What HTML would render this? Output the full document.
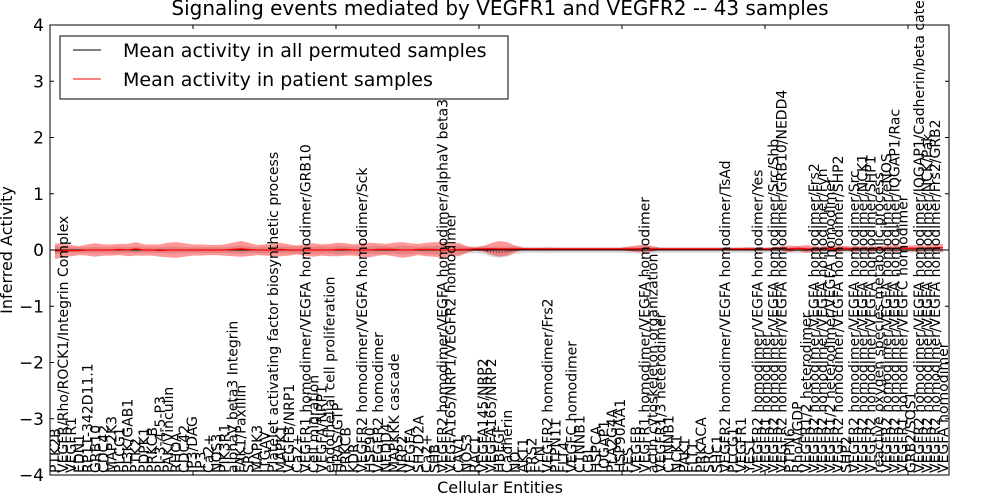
<!DOCTYPE html>
<html><head><meta charset="utf-8"><style>
html,body{margin:0;padding:0;background:#fff;}
svg{display:block;font-family:"DejaVu Sans","Liberation Sans",sans-serif;}
</style></head><body>
<svg id="chart" width="1000" height="500" viewBox="0 0 1000 500" xmlns="http://www.w3.org/2000/svg">
<rect x="0" y="0" width="1000" height="500" fill="#fff"/>
<text x="500" y="15" font-size="20" text-anchor="middle">Signaling events mediated by VEGFR1 and VEGFR2 -- 43 samples</text>
<g id="plot"></g>
<g id="xlabels"></g>
<g id="yaxis"></g>
<rect x="50" y="25" width="899" height="450" fill="none" stroke="#000" stroke-width="1"/>
<text x="500" y="493" font-size="16" text-anchor="middle">Cellular Entities</text>
<text transform="translate(12,250) rotate(-90)" font-size="16" text-anchor="middle">Inferred Activity</text>
<g>
<rect x="60" y="36" width="448" height="63" fill="#fff" stroke="#000" stroke-width="1"/>
<line x1="73" y1="50" x2="101" y2="50" stroke="#000" stroke-width="1"/>
<text x="123" y="57" font-size="19">Mean activity in all permuted samples</text>
<line x1="73" y1="79" x2="101" y2="79" stroke="#f00" stroke-width="1"/>
<text x="123" y="86" font-size="19">Mean activity in patient samples</text>
</g>
</svg>
<script>
const categories = ["PTK2B","VEGFR/Rho/ROCK1/Integrin Complex","VEGFR1","EDN1","RP11-342D11.1","GRB10","CDC42","MAP2K3","PLCG1","PI3K/GAB1","PTK2","PDPK1","PRKCB","PI-3-4-5-P3","PAK/Vinculin","RHOA","CDC42","IP3/DAG","IP3","Ca2+","NOS3","PIK3R1","alphaV beta3 Integrin","FAK1/Paxillin","SRC","MAPK3","ITGAV","Platelet activating factor biosynthetic process","MAPK1","VEGFB/NRP1","Ca2+","VEGFR1 homodimer/VEGFA homodimer/GRB10","Cell migration","VEGFA/NRP1","endothelial cell proliferation","HRAS/GTP","PRKCB","KDR","VEGFR2 homodimer/VEGFA homodimer/Sck","HSP90","VEGFR2 homodimer","NEDD4","MAPKKK cascade","NRP2","VEGFA","SH2D2A","Ca2+","SHB","VEGFR2 homodimer/VEGFA homodimer/alphaV beta3","VEGFA165/NRP1/VEGFR2 homodimer","CAV1","NOS3","RAC1","VEGFA145/NRP2","VEGFA165/NRP2","HBEGF","Cadherin","NO","AKT1","FRS2","FYN","VEGFR2 homodimer/Frs2","PTPN11","FLT4","VEGFC homodimer","CTNNB1","CBL","HSPCA","IQGAP1","PLA2G4A","HSP90AA1","FES","VEGFB","VEGFR1 homodimer/VEGFA homodimer","actin cytoskeleton organization","VEGFR1/3 heterodimer","CTNNB1","NCK1","PAK1","FLT1","PRKACA","SRC","SHC1","VEGFR2 homodimer/VEGFA homodimer/TsAd","PLCG1","VEGFR1","YES1","VEGFR2 homodimer/VEGFA homodimer/Yes","VEGFR1 homodimer","VEGFR2 homodimer/VEGFA homodimer/Src/Shb","VEGFR2 homodimer/VEGFA homodimer/GRB10/NEDD4","PTPN6","RhoA/GDP","VEGFR1/2 heterodimer","VEGFR2 homodimer/VEGFA homodimer/Frs2","VEGFR2 homodimer/VEGFA homodimer/Fyn","VEGFR1/2 heterodimer/VEGFA homodimer","VEGFR2 homodimer/VEGFA homodimer/SHP2","SHP2","VEGFR2 homodimer/VEGFA homodimer/Src","VEGFR2 homodimer/VEGFA homodimer/NCK1","VEGFR2 homodimer/VEGFA homodimer/SHP1","reactive oxygen species metabolic process","VEGFR2 homodimer/VEGFA homodimer/eNOS","VEGFR2 homodimer/VEGFA homodimer/IQGAP1/Rac","VEGFR1 homodimer/VEGFC homodimer","GRB2/SOS1","VEGFR2 homodimer/VEGFA homodimer/IQGAP1/Cadherin/beta catenin","VEGFR2 homodimer/VEGFA homodimer/NCK/Pak","VEGFR2 homodimer/VEGFA homodimer/Frs2/GRB2","VEGFA homodimer"];
const permutedMean = [0,0,0,0,0,0,0,0,0,0,0.01,0,0,0,0,0,0,0,0,0,0,0,0,0.01,0,0,0,0,0,0,0,0,0,0,0,0,0,0,0,0,0,0,0,0,0,0,0,0,0,0,0,0,0,0,-0.03,-0.04,-0.03,0,0,0,0,0,0,0,0,0,0,0,0,0,0,0,0,0,0,0,0,0,0,0,0,0,0,0,0,0,0,0,0,0,0,0,0,0,0,0,0,0,0,0,0,0,0,0,0,0,0,0,0,0,0];
const permutedSpread = [0.07,0.06,0.05,0.05,0.05,0.05,0.05,0.06,0.06,0.05,0.06,0.05,0.05,0.05,0.06,0.06,0.05,0.05,0.05,0.05,0.05,0.05,0.06,0.07,0.06,0.05,0.06,0.06,0.06,0.06,0.06,0.07,0.06,0.07,0.06,0.07,0.07,0.06,0.07,0.06,0.07,0.07,0.06,0.08,0.07,0.06,0.07,0.07,0.08,0.07,0.08,0.06,0.06,0.07,0.09,0.1,0.09,0.07,0.06,0.05,0.05,0.06,0.05,0.05,0.05,0.05,0.05,0.05,0.05,0.05,0.05,0.06,0.06,0.07,0.06,0.05,0.05,0.05,0.05,0.05,0.05,0.05,0.05,0.05,0.05,0.05,0.05,0.05,0.05,0.05,0.06,0.05,0.06,0.05,0.05,0.05,0.05,0.05,0.05,0.05,0.05,0.05,0.05,0.05,0.05,0.05,0.05,0.05,0.05,0.05,0.05];
const patientMean = [-0.02,-0.01,-0.01,-0.01,0,0,0,0,0.01,0,0.02,0,0,-0.01,0,0,0,0,0,0,0,0,0.01,0.02,0.01,0,0,0,0.01,0,0,0,0,0,0,0.01,0.01,0,0,0,0.01,0.01,0.01,0,0,0.01,0.01,0.01,0,0,0.01,0.01,0.02,0.02,0.02,0.02,0.02,0.02,0.02,0.02,0.02,0.02,0.02,0.02,0.02,0.02,0.02,0.02,0.02,0.02,0.02,0.02,0.02,0.03,0.02,0.02,0.02,0.02,0.02,0.02,0.02,0.02,0.02,0.02,0.02,0.02,0.02,0.02,0.02,0.02,0.03,0.02,0.03,0.02,0.02,0.02,0.03,0.02,0.03,0.02,0.03,0.02,0.03,0.03,0.03,0.03,0.03,0.03,0.03,0.04,0.04];
const patientSpread = [0.14,0.12,0.1,0.08,0.1,0.12,0.1,0.1,0.1,0.11,0.12,0.1,0.1,0.11,0.13,0.14,0.12,0.1,0.1,0.09,0.09,0.1,0.12,0.14,0.12,0.09,0.1,0.11,0.12,0.1,0.08,0.1,0.12,0.1,0.11,0.12,0.11,0.1,0.12,0.13,0.11,0.1,0.12,0.14,0.12,0.1,0.12,0.13,0.14,0.11,0.12,0.06,0.03,0.05,0.1,0.14,0.12,0.06,0.02,0.02,0.02,0.02,0.02,0.02,0.02,0.02,0.02,0.02,0.02,0.02,0.02,0.04,0.06,0.07,0.05,0.02,0.02,0.02,0.02,0.02,0.02,0.02,0.02,0.02,0.02,0.02,0.03,0.02,0.02,0.03,0.04,0.06,0.04,0.07,0.05,0.04,0.05,0.06,0.04,0.05,0.04,0.05,0.04,0.05,0.06,0.05,0.05,0.06,0.05,0.06,0.07];
const yTicks = [4,3,2,1,0,-1,-2,-3,-4];
const yTickLabels = ["4","3","2","1","0","\u22121","\u22122","\u22123","\u22124"];

const NS = "http://www.w3.org/2000/svg";
const X0 = 55, X1 = 943, PL = 50, PR = 949, PT = 25, PB = 475;
function xScale(i){ return X0 + i*(X1-X0)/(categories.length-1); }
function yScale(v){ return 250 - v*(PB-PT)/8; }
function mk(tag, attrs, parent){ const e=document.createElementNS(NS,tag); for(const k in attrs) e.setAttribute(k,attrs[k]); parent.appendChild(e); return e; }

const plot = document.getElementById('plot');
function band(mean, spread, fill, op, name){
  let up=[],dn=[];
  for(let i=0;i<categories.length;i++){ up.push(xScale(i)+','+yScale(mean[i]+spread[i])); dn.unshift(xScale(i)+','+yScale(mean[i]-spread[i])); }
  const p = mk('polygon',{points:up.concat(dn).join(' '),fill:fill,'fill-opacity':op,stroke:'none'},plot);
  
  
}
function line(mean, stroke, dash, name, w){
  let pts=[]; for(let i=0;i<categories.length;i++) pts.push(xScale(i)+','+yScale(mean[i]));
  const p = mk('polyline',{points:pts.join(' '),fill:'none',stroke:stroke,'stroke-width':w},plot);
  if(dash) p.setAttribute('stroke-dasharray',dash);
  
  
}
band(permutedMean, permutedSpread, '#999', 0.35, 'permuted-band');
band(patientMean, patientSpread, '#f00', 0.4, 'patient-band');
const zl = mk('line',{x1:PL,x2:PR,y1:yScale(0),y2:yScale(0),stroke:'#000','stroke-width':1},plot);


line(permutedMean, '#000', '1,2', 'permuted-mean-line', 1);
line(patientMean, '#f00', null, 'patient-mean-line', 1.3);

const xl = document.getElementById('xlabels');
categories.forEach((c,i)=>{
  const t = mk('text',{transform:'translate('+(xScale(i)+5)+','+(PB-2)+') rotate(-90)','font-size':14},xl);
  t.textContent = c;
  
  
});
for(let k=0;k<7;k++){
  const x = PL + 143*k;
  const a = mk('line',{x1:x,x2:x,y1:PT,y2:PT+4,stroke:'#000'},xl);
  
  
  const b = mk('line',{x1:x,x2:x,y1:PB,y2:PB-4,stroke:'#000'},xl);
  
  
}
const ya = document.getElementById('yaxis');
yTicks.forEach((v,i)=>{
  const y = yScale(v);
  const a = mk('line',{x1:PL,x2:PL+4,y1:y,y2:y,stroke:'#000'},ya);
  
  
  const b = mk('line',{x1:PR,x2:PR-4,y1:y,y2:y,stroke:'#000'},ya);
  
  
  const t = mk('text',{x:PL-6,y:y+6,'font-size':17,'text-anchor':'end'},ya);
  t.textContent = yTickLabels[i];
  
  
});
</script>
</body></html>
